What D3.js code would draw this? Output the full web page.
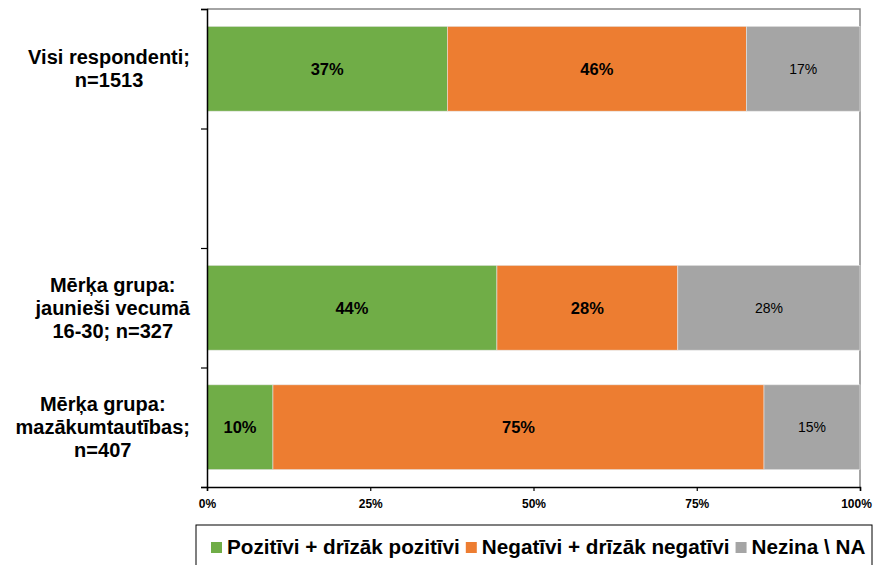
<!DOCTYPE html>
<html>
<head>
<meta charset="utf-8">
<script src="https://cdn.jsdelivr.net/npm/d3@7"></script>
<style>
  body { margin: 0; background: #fff; }
  text { font-family: "Liberation Sans", Arial, sans-serif; }
</style>
</head>
<body>
<svg width="880" height="565"></svg>
<script>
// categories, top to bottom (second slot is empty in the original)
var categories = [
    ["Visi respondenti;", "n=1513"],
    [],
    ["Mērķa grupa:", "jaunieši vecumā", "16-30; n=327"],
    ["Mērķa grupa:", "mazākumtautības;", "n=407"]
];
var seriesNames = ["Pozitīvi + drīzāk pozitīvi", "Negatīvi + drīzāk negatīvi", "Nezina \\ NA"];
var pozitivi = [36.8, null, 44.4, 10.1];
var negativi = [45.8, null, 27.7, 75.2];
var nezina   = [17.4, null, 27.9, 14.7];
var xTicks = [0, 25, 50, 75, 100];

var colors = ["#70AD47", "#ED7D31", "#A5A5A5"];

var svg = d3.select("svg");
var plotL = 207, plotR = 860, plotT = 9, plotB = 487;

var x = d3.scaleLinear().domain([0, 100]).range([plotL, plotR]);
var y = d3.scaleBand()
    .domain(d3.range(categories.length))
    .range([plotT, plotB])
    .paddingInner(0.29)
    .paddingOuter(0.145);
// boundaries between categories, for the tick marks
var yEdge = d3.scaleLinear().domain([0, categories.length]).range([plotT, plotB]);

// frame (top and right, grey)
svg.append("path")
    .attr("d", "M" + plotL + "," + plotT + "H" + plotR + "V" + plotB)
    .attr("fill", "none")
    .attr("stroke", "#868686")
    .attr("stroke-width", 1.5);

// stack the series
var rows = categories.map(function (c, i) {
    return { i: i, vals: [pozitivi[i], negativi[i], nezina[i]] };
}).filter(function (r) { return r.vals[0] != null; });

var segs = [];
rows.forEach(function (r) {
    var acc = 0;
    r.vals.forEach(function (v, k) {
        segs.push({ i: r.i, k: k, x0: acc, x1: acc + v, v: v });
        acc += v;
    });
});

svg.append("g").selectAll("rect")
    .data(segs)
    .enter()
    .append("rect")
    .attr("x", function (d) { return x(d.x0); })
    .attr("width", function (d) { return x(d.x1) - x(d.x0); })
    .attr("y", function (d) { return y(d.i); })
    .attr("height", y.bandwidth())
    .attr("fill", function (d) { return colors[d.k]; })
    .attr("stroke", "#e6e6e6")
    .attr("stroke-width", 0.6);

svg.append("g").selectAll("text")
    .data(segs)
    .enter()
    .append("text")
    .attr("x", function (d) { return (x(d.x0) + x(d.x1)) / 2; })
    .attr("y", function (d) { return y(d.i) + y.bandwidth() / 2; })
    .attr("dy", "0.36em")
    .attr("text-anchor", "middle")
    .attr("font-size", d => d.k == 2 ? 14 : 16.5)
    .attr("font-weight", d => d.k == 2 ? "normal" : "bold")
    .attr("fill", "#000")
    .text(function (d) { return Math.round(d.v) + "%"; });

// left axis: ticks at category boundaries
var yAxis = svg.append("g")
    .attr("transform", "translate(" + plotL + ",0)")
    .call(d3.axisLeft(yEdge).tickValues(d3.range(categories.length + 1)).tickSize(6).tickFormat(""));
yAxis.select(".domain").attr("stroke", "#000").attr("stroke-width", 1.5);
yAxis.selectAll(".tick line").attr("stroke", "#000").attr("stroke-width", 1.2);

// bottom axis
var xAxis = svg.append("g")
    .attr("transform", "translate(0," + plotB + ")")
    .call(d3.axisBottom(x).tickValues(xTicks).tickSize(4).tickPadding(8)
        .tickFormat(function (d) { return d + "%"; }));
xAxis.select(".domain").attr("stroke", "#000").attr("stroke-width", 1.5);
xAxis.selectAll(".tick line").attr("stroke", "#000").attr("stroke-width", 1.2);
xAxis.selectAll(".tick text")
    .attr("font-family", "Liberation Sans, Arial, sans-serif")
    .attr("font-size", 12)
    .attr("font-weight", "bold")
    .attr("fill", "#000")
    .attr("dx", function (d) { return d == 100 ? -4 : 0; });

// category labels, block right-aligned, lines centred
var lineH = 23;
var catG = svg.append("g");
categories.forEach(function (lines, i) {
    if (!lines.length) return;
    var t = catG.append("text")
        .attr("font-size", 20)
        .attr("font-weight", "bold")
        .attr("text-anchor", "middle");
    var cy = yEdge(i + 0.5) - (lines.length - 1) * lineH / 2;
    lines.forEach(function (s, j) {
        t.append("tspan").attr("y", cy + j * lineH).attr("dy", "0.35em").text(s);
    });
    var w = d3.max(t.selectAll("tspan").nodes(), function (n) { return n.getComputedTextLength(); });
    t.selectAll("tspan").attr("x", 190 - w / 2);
});

// legend
var leg = svg.append("g");
leg.append("rect")
    .attr("x", 196).attr("y", 525)
    .attr("width", 676).attr("height", 50)
    .attr("fill", "#fff")
    .attr("stroke", "#000")
    .attr("stroke-width", 1);
var lx = 211;
seriesNames.forEach(function (name, k) {
    leg.append("rect")
        .attr("x", lx).attr("y", 542)
        .attr("width", 11).attr("height", 11)
        .attr("fill", colors[k]);
    var t = leg.append("text")
        .attr("x", lx + 16).attr("y", 554)
        .attr("font-size", 20.7)
        .attr("font-weight", "bold")
        .text(name);
    lx += 16 + t.node().getComputedTextLength() + 6;
});
</script>
</body>
</html>
